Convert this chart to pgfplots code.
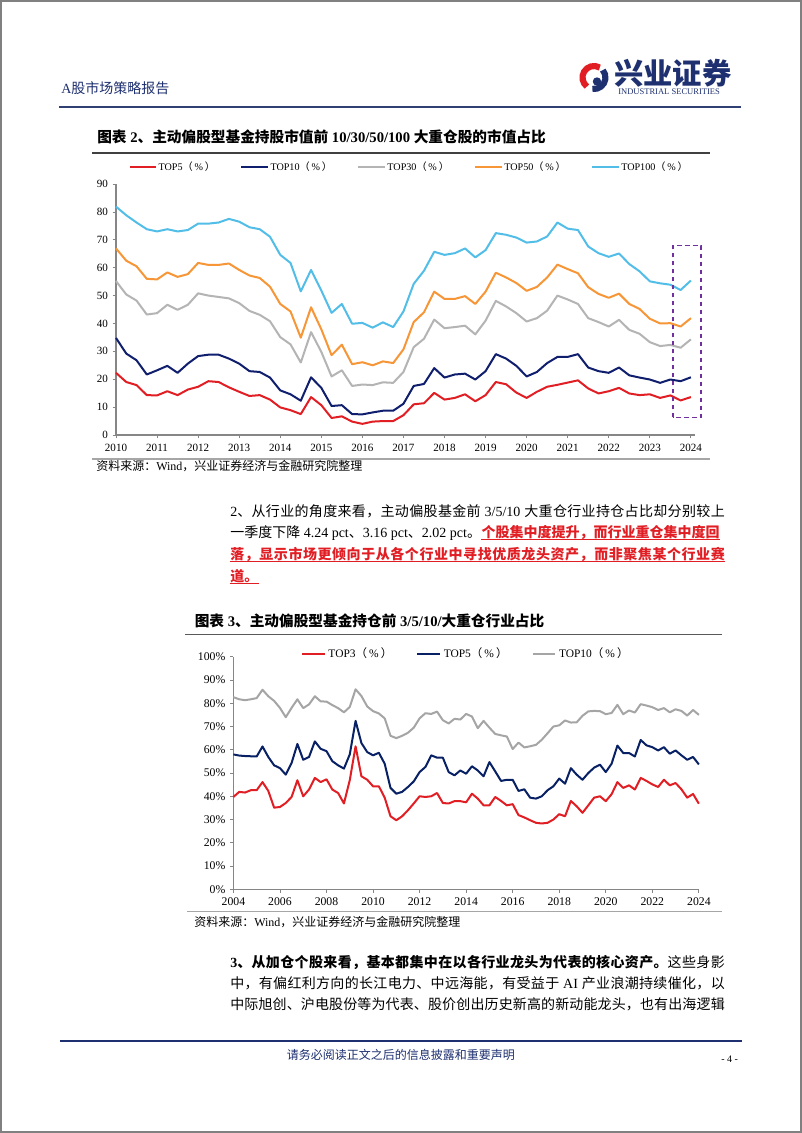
\documentclass[border=0pt]{standalone}
\usepackage{pgfplots}
\pgfplotsset{compat=1.18}
\usepackage{pgfplotstable}
\usepackage{fontspec}
\setmainfont{Noto Sans CJK SC}
\newfontfamily\latfont{Liberation Serif}
\newcommand\lat[1]{{\latfont #1}}
\newcommand\pct{（\hspace{0.18em}\lat{\%}\hspace{0.18em}）}
\definecolor{cRed}{RGB}{225,30,36}
\definecolor{cNavy}{RGB}{16,30,110}
\definecolor{cGray}{RGB}{180,180,180}
\definecolor{cOrange}{RGB}{247,150,54}
\definecolor{cCyan}{RGB}{82,190,232}
\definecolor{dNavy}{RGB}{8,32,100}
\definecolor{dGray}{RGB}{165,165,165}
\definecolor{hNavy}{RGB}{30,48,112}
\definecolor{cPurple}{RGB}{112,48,160}
\definecolor{axGray}{RGB}{134,134,134}

\XeTeXinterchartokenstate=1
\newXeTeXintercharclass\CJKcl
\newcount\cc
\cc="3000 \loop\XeTeXcharclass\cc=\CJKcl\relax\ifnum\cc<"303F \advance\cc by 1 \repeat
\cc="4E00 \loop\XeTeXcharclass\cc=\CJKcl\relax\ifnum\cc<"9FFF \advance\cc by 1 \repeat
\cc="FF00 \loop\XeTeXcharclass\cc=\CJKcl\relax\ifnum\cc<"FFEF \advance\cc by 1 \repeat
\XeTeXinterchartoks\CJKcl\CJKcl={\hskip 0pt plus 1pt minus 0.3pt\relax}

\newdimen\px \px=0.75pt
\newcommand\bodyfont{\fontsize{10.5pt}{12pt}\selectfont}

\pgfplotstableread{
x t5 t10 t30 t50 t100
2010.00 22.3 34.8 55.2 66.9 81.9
2010.25 19.0 29.2 50.4 62.5 78.8
2010.50 17.9 26.8 48.2 60.5 76.2
2010.75 14.3 21.7 43.2 56.0 73.8
2011.00 14.2 23.2 43.7 55.8 73.0
2011.25 15.7 24.8 46.7 58.3 73.8
2011.50 14.3 22.3 44.9 56.7 73.0
2011.75 16.3 25.6 46.7 57.7 73.5
2012.00 17.3 28.3 50.8 61.7 75.8
2012.25 19.3 28.8 50.0 61.0 75.8
2012.50 19.0 28.8 49.5 61.0 76.2
2012.75 17.1 27.4 49.0 61.5 77.5
2013.00 15.5 25.6 47.3 59.2 76.5
2013.25 14.0 22.9 44.5 57.2 74.5
2013.50 14.3 22.6 43.1 56.3 73.8
2013.75 12.7 20.6 40.8 53.2 71.1
2014.00 9.9 16.0 35.1 47.0 64.6
2014.25 8.9 14.6 32.5 44.3 61.7
2014.50 7.5 12.3 26.0 34.9 51.5
2014.75 13.6 20.7 36.9 45.8 59.2
2015.00 10.7 16.9 29.8 37.9 51.8
2015.25 6.1 10.4 21.0 28.6 43.8
2015.50 6.7 10.7 23.2 32.4 47.0
2015.75 4.8 7.5 17.6 25.4 39.9
2016.00 4.0 7.4 18.1 26.1 40.2
2016.25 4.8 8.1 17.9 25.0 38.5
2016.50 5.0 8.7 18.9 26.4 40.4
2016.75 5.0 8.7 18.7 25.8 38.7
2017.00 7.1 11.2 22.6 30.7 44.3
2017.25 11.0 17.6 31.5 40.5 54.2
2017.50 11.4 18.3 34.5 44.0 58.9
2017.75 15.1 24.0 41.4 51.4 65.7
2018.00 12.7 20.6 38.3 48.8 64.6
2018.25 13.3 21.7 38.7 48.8 65.2
2018.50 14.6 22.0 39.2 49.8 66.9
2018.75 12.1 19.9 36.1 47.0 63.7
2019.00 14.3 22.9 41.0 51.4 66.3
2019.25 19.0 29.0 48.1 58.2 72.4
2019.50 18.2 27.4 46.1 56.5 71.8
2019.75 15.2 24.8 43.7 54.5 70.8
2020.00 13.3 21.0 40.7 51.7 69.0
2020.25 15.5 22.6 41.9 53.1 69.4
2020.50 17.3 25.8 44.6 56.5 71.2
2020.75 18.0 28.0 50.0 61.1 76.2
2021.00 18.8 28.0 48.6 59.5 74.0
2021.25 19.6 29.0 47.0 58.0 73.5
2021.50 16.7 24.2 41.9 53.0 67.6
2021.75 14.9 22.9 40.5 50.6 65.2
2022.00 15.7 22.3 38.9 49.2 63.9
2022.25 16.9 24.2 41.3 50.7 65.1
2022.50 14.9 21.4 37.7 47.0 61.3
2022.75 14.3 20.6 36.3 45.2 58.7
2023.00 14.6 19.9 33.3 41.7 55.1
2023.25 13.3 18.7 31.9 40.0 54.4
2023.50 14.2 19.9 32.3 40.1 53.9
2023.75 12.4 19.3 31.3 38.9 52.0
2024.00 13.6 20.7 34.3 41.9 55.4
}\chartA

\pgfplotstableread{
x t3 t5 t10
2004.00 39.7 58.0 82.6
2004.25 41.9 57.5 81.7
2004.50 41.6 57.3 81.3
2004.75 42.6 57.2 81.7
2005.00 42.6 57.1 82.2
2005.25 46.1 61.4 85.8
2005.50 42.3 56.9 83.0
2005.75 35.1 53.3 81.0
2006.00 35.4 52.1 78.0
2006.25 37.1 49.3 74.0
2006.50 39.7 54.3 78.0
2006.75 46.9 62.5 81.7
2007.00 40.0 55.7 77.9
2007.25 42.9 56.9 79.5
2007.50 47.9 63.6 83.0
2007.75 46.1 60.4 80.8
2008.00 47.3 59.4 80.7
2008.25 42.9 55.1 79.2
2008.50 41.4 53.3 77.9
2008.75 36.9 51.9 76.1
2009.00 46.9 58.0 78.4
2009.25 61.5 72.4 86.0
2009.50 48.6 62.9 83.1
2009.75 47.1 59.0 78.6
2010.00 44.3 57.6 76.6
2010.25 44.3 58.7 75.6
2010.50 39.4 54.0 73.5
2010.75 31.4 43.6 66.0
2011.00 29.7 41.1 65.0
2011.25 31.4 41.9 66.0
2011.50 34.0 44.0 67.3
2011.75 36.9 46.4 69.5
2012.00 40.0 50.4 73.5
2012.25 39.7 52.6 75.7
2012.50 40.0 57.6 75.4
2012.75 41.4 56.6 76.4
2013.00 37.1 56.6 72.7
2013.25 36.9 50.4 71.3
2013.50 37.9 49.0 73.3
2013.75 37.9 51.1 73.0
2014.00 37.4 49.7 75.4
2014.25 41.1 52.9 74.3
2014.50 39.0 51.1 69.3
2014.75 36.1 48.6 72.4
2015.00 36.1 54.7 69.5
2015.25 39.7 50.7 66.8
2015.50 38.0 46.6 66.2
2015.75 36.1 47.1 65.7
2016.00 36.6 47.1 60.3
2016.25 31.9 42.3 63.1
2016.50 30.9 43.0 61.0
2016.75 29.7 39.4 61.5
2017.00 28.6 39.0 62.1
2017.25 28.3 40.0 64.3
2017.50 28.6 42.6 67.1
2017.75 30.0 44.3 70.0
2018.00 32.3 47.6 70.5
2018.25 31.4 45.4 72.6
2018.50 38.0 52.1 71.7
2018.75 35.7 49.3 71.8
2019.00 32.9 47.1 74.6
2019.25 36.1 50.0 76.5
2019.50 39.4 52.3 76.7
2019.75 40.0 53.6 76.6
2020.00 37.9 50.4 75.3
2020.25 40.9 54.0 75.8
2020.50 46.1 61.8 79.3
2020.75 43.6 58.6 75.3
2021.00 44.7 58.6 76.9
2021.25 42.9 57.1 76.0
2021.50 47.9 64.2 79.6
2021.75 46.6 61.9 79.0
2022.00 45.1 61.1 78.3
2022.25 44.0 59.7 77.1
2022.50 47.1 61.1 77.9
2022.75 44.7 58.3 76.1
2023.00 45.7 59.7 77.4
2023.25 43.0 57.6 76.7
2023.50 39.4 55.7 74.7
2023.75 41.0 56.9 77.1
2024.00 36.8 53.7 75.0
}\chartB

\begin{document}
\begin{tikzpicture}[x=0.75pt,y=-0.75pt]
\path[use as bounding box] (0,0) rectangle (802,1133);
\fill[white] (0,0) rectangle (802,1133);
\draw[gray, line width=1.1pt] (0.8,0.8) rectangle (801.2,1132.2);
\coordinate (AxA) at (116,435);
\coordinate (AxB) at (233.4,889.3);

% ---------- header ----------
\node[anchor=base west, inner sep=0, text=hNavy, font=\fontsize{10.5pt}{12pt}\selectfont] at (61,93) {\lat{A}股市场策略报告};
\begin{scope}[shift={(594,77.5)}]
  \draw[cRed, line width=4.6pt] (-60:11.5) arc[start angle=-60, end angle=-232, radius=11.5];
  \draw[hNavy, line width=4.6pt] (-262:11.5) arc[start angle=-262, end angle=-400, radius=11.5];
  \fill[hNavy] (3,4) circle (4.2);
\end{scope}
\node[anchor=base west, inner sep=0, text=hNavy, font=\fontsize{22pt}{24pt}\selectfont\bfseries] at (614,84) {兴业证券};
\node[anchor=base west, inner sep=0, text=hNavy, font=\latfont\fontsize{6.4pt}{7pt}\selectfont] at (618,94) {INDUSTRIAL SECURITIES};
\draw[hNavy!80!gray, line width=1.4pt] (59,106.7) -- (741,106.7);

% ---------- chart 1 ----------
\node[anchor=base west, inner sep=0, font=\fontsize{11pt}{13pt}\selectfont\bfseries] at (97,142.5) {图表\lat{ 2}、主动偏股型基金持股市值前\lat{ 10/30/50/100 }大重仓股的市值占比};
\draw[black!75, line width=1.3pt] (92,152.7) -- (710,152.7);

\begin{axis}[
  at={(AxA)}, anchor=south west, scale only axis,
  width=434.25pt, height=188.25pt,
  xmin=2010, xmax=2024.1, ymin=0, ymax=90,
  axis x line*=bottom, axis y line*=left,
  axis line style={axGray, line width=0.8pt, -},
  xtick={2010,2011,...,2024}, ytick={0,10,...,90},
  tick style={axGray, line width=0.6pt},
  major tick length=2.5pt, tick align=outside,
  /pgf/number format/assume math mode=true,
  /pgf/number format/1000 sep={},
  ticklabel style={font=\latfont\fontsize{8.3pt}{9pt}\selectfont, text=black},
  xticklabel style={yshift=-1pt},
  clip=false,
  every axis plot/.append style={line width=1.5pt, line join=round},
  legend columns=5,
  legend style={draw=none, fill=none, at={(0.0212,1.0665)}, anchor=west, inner sep=0pt,
    font=\fontsize{7.6pt}{9pt}\selectfont,
    /tikz/every even column/.append style={column sep=18pt},
    nodes={inner sep=1pt}},
  legend image code/.code={\draw[#1, line width=1.6pt] (0pt,0pt) -- (20pt,0pt);},
]
\addplot[cRed] table[x=x,y=t5] {\chartA};
\addlegendentry{\lat{TOP5}\pct}
\addplot[cNavy] table[x=x,y=t10] {\chartA};
\addlegendentry{\lat{TOP10}\pct}
\addplot[cGray] table[x=x,y=t30] {\chartA};
\addlegendentry{\lat{TOP30}\pct}
\addplot[cOrange] table[x=x,y=t50] {\chartA};
\addlegendentry{\lat{TOP50}\pct}
\addplot[cCyan] table[x=x,y=t100] {\chartA};
\addlegendentry{\lat{TOP100}\pct}
\draw[cPurple, line width=1.1pt, dash pattern=on 3.5pt off 2.5pt] (axis cs:2023.56,6.3) rectangle (axis cs:2024.25,67.9);
\end{axis}

\draw[gray!70, line width=1pt] (92,459) -- (710,459);
\node[anchor=base west, inner sep=0, font=\fontsize{9pt}{10pt}\selectfont] at (96,470.2) {资料来源：\lat{Wind}，兴业证券经济与金融研究院整理};

% ---------- paragraph 2 ----------
\node[anchor=base west, inner sep=0, font=\bodyfont] at (230,516) {\hbox to 494.5\px{\lat{2}、从行业的角度来看，主动偏股基金前\lat{ 3/5/10 }大重仓行业持仓占比却分别较上}};
\node[anchor=base west, inner sep=0, font=\bodyfont] (p2a) at (230,537.6) {一季度下降\lat{ 4.24 pct}、\lat{3.16 pct}、\lat{2.02 pct}。};
\node[anchor=base west, inner sep=0, font=\bodyfont\bfseries, text=cRed] (p2b) at (p2a.base east) {个股集中度提升，而行业重仓集中度回};
\draw[cRed, line width=0.8pt] ([yshift=-1.4pt]p2b.base west) -- ([yshift=-1.4pt]p2b.base east);
\node[anchor=base west, inner sep=0, font=\bodyfont\bfseries, text=cRed] (p3) at (230,559.4) {\hbox to 494.5\px{落，显示市场更倾向于从各个行业中寻找优质龙头资产，而非聚焦某个行业赛}};
\draw[cRed, line width=0.8pt] ([yshift=-1.4pt]p3.base west) -- ([yshift=-1.4pt]p3.base east);
\node[anchor=base west, inner sep=0, font=\bodyfont\bfseries, text=cRed] (p4) at (230,581.6) {道。};
\draw[cRed, line width=0.8pt] ([yshift=-1.4pt]p4.base west) -- ([yshift=-1.4pt]p4.base east);

% ---------- chart 2 ----------
\node[anchor=base west, inner sep=0, font=\fontsize{11pt}{13pt}\selectfont\bfseries] at (194.5,626.3) {图表\lat{ 3}、主动偏股型基金持仓前\lat{ 3/5/10/}大重仓行业占比};
\draw[black!65, line width=1.2pt] (185,634.3) -- (722,634.3);

\begin{axis}[
  at={(AxB)}, anchor=south west, scale only axis,
  width=349.1pt, height=174.45pt,
  xmin=2004, xmax=2024, ymin=0, ymax=100,
  axis x line*=bottom, axis y line*=left,
  axis line style={axGray, line width=0.8pt, -},
  xtick={2004,2006,...,2024}, ytick={0,10,...,100},
  yticklabel={\pgfmathprintnumber{\tick}\%},
  tick style={axGray, line width=0.6pt},
  major tick length=2.5pt, tick align=outside,
  /pgf/number format/assume math mode=true,
  /pgf/number format/1000 sep={},
  ticklabel style={font=\latfont\fontsize{8.8pt}{10pt}\selectfont, text=black},
  clip=false,
  every axis plot/.append style={line width=1.5pt, line join=round},
  legend columns=3,
  legend style={draw=none, fill=none, at={(0.1447,1.0116)}, anchor=west, inner sep=0pt,
    font=\fontsize{8.6pt}{10pt}\selectfont,
    /tikz/every even column/.append style={column sep=16pt},
    nodes={inner sep=2pt}},
  legend image code/.code={\draw[#1, line width=1.6pt] (0pt,0pt) -- (17pt,0pt);},
]
\addplot[cRed] table[x=x,y=t3] {\chartB};
\addlegendentry{\lat{TOP3}\pct}
\addplot[dNavy] table[x=x,y=t5] {\chartB};
\addlegendentry{\lat{TOP5}\pct}
\addplot[dGray] table[x=x,y=t10] {\chartB};
\addlegendentry{\lat{TOP10}\pct}
\end{axis}

\draw[gray!70, line width=1pt] (187,911.7) -- (722,911.7);
\node[anchor=base west, inner sep=0, font=\fontsize{9pt}{10pt}\selectfont] at (194,926.2) {资料来源：\lat{Wind}，兴业证券经济与金融研究院整理};

% ---------- paragraph 3 ----------
\node[anchor=base west, inner sep=0, font=\bodyfont] at (230,967) {\hbox to 494.5\px{\bfseries\lat{3}、从加仓个股来看，基本都集中在以各行业龙头为代表的核心资产。\mdseries 这些身影}};
\node[anchor=base west, inner sep=0, font=\bodyfont] at (230,988.5) {\hbox to 494.5\px{中，有偏红利方向的长江电力、中远海能，有受益于\lat{ AI }产业浪潮持续催化，以}};
\node[anchor=base west, inner sep=0, font=\bodyfont] at (230,1009.5) {\hbox to 494.5\px{中际旭创、沪电股份等为代表、股价创出历史新高的新动能龙头，也有出海逻辑}};

% ---------- footer ----------
\draw[hNavy, line width=1.4pt] (60,1040.7) -- (741.7,1040.7);
\node[inner sep=0, text=hNavy, font=\fontsize{9pt}{10pt}\selectfont] at (400.8,1054.5) {请务必阅读正文之后的信息披露和重要声明};
\node[inner sep=0, font=\latfont\fontsize{7.5pt}{9pt}\selectfont] at (729.7,1059) {- 4 -};
\end{tikzpicture}
\end{document}
